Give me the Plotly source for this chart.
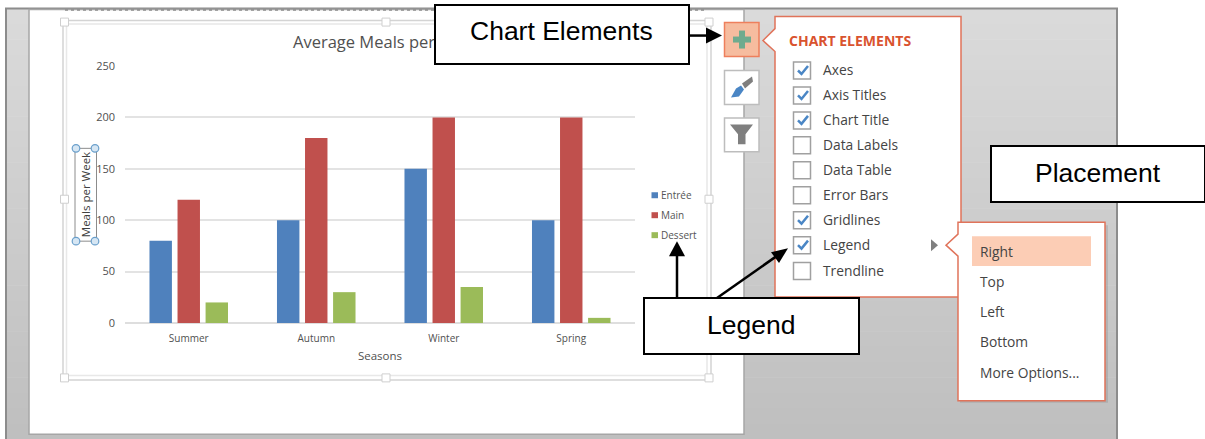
import plotly.graph_objects as go

# Chart data
seasons = ["Summer", "Autumn", "Winter", "Spring"]
entree = [80, 100, 150, 100]
main = [120, 180, 200, 200]
dessert = [20, 30, 35, 5]
series_names = ["Entrée", "Main", "Dessert"]
series_colors = ["#4F81BD", "#C0504D", "#9BBB59"]

# Menu contents
element_names = ["Axes", "Axis Titles", "Chart Title", "Data Labels", "Data Table",
                 "Error Bars", "Gridlines", "Legend", "Trendline"]
element_checked = [True, True, True, False, False, False, True, True, False]
element_rows = [70, 95, 120, 145, 170, 195, 220, 245, 271]
placement_names = ["Right", "Top", "Left", "Bottom", "More Options..."]
placement_rows = [252, 282, 312, 342, 373]

# Plot area in page pixels; everything around it is placed relative to this
W, H = 1205, 439
LEFT, RIGHT, TOP, BOTTOM = 125, 635, 65.5, 323
UI_FONT = "Open Sans"
CALLOUT_FONT = "Liberation Sans"


def px(x):
    return (x - LEFT) / (RIGHT - LEFT)


def py(y):
    return (BOTTOM - y) / (BOTTOM - TOP)


def rect(x0, y0, x1, y1, fill=None, line=None, width=1, layer="above", dash=None):
    return dict(type="rect", xref="paper", yref="paper", layer=layer,
                x0=px(x0), x1=px(x1), y0=py(y0), y1=py(y1),
                fillcolor=fill or "rgba(0,0,0,0)",
                line=dict(color=line or "rgba(0,0,0,0)", width=width if line else 0, dash=dash))


def circle(cx, cy, r, fill, line, width=1):
    return dict(type="circle", xref="paper", yref="paper", layer="above",
                x0=px(cx - r), x1=px(cx + r), y0=py(cy - r), y1=py(cy + r),
                fillcolor=fill, line=dict(color=line, width=width))


def poly(points, fill=None, line=None, width=1, close=True, layer="above"):
    d = "M" + " L".join(f"{px(x):.5f},{py(y):.5f}" for x, y in points) + (" Z" if close else "")
    return dict(type="path", xref="paper", yref="paper", layer=layer, path=d,
                fillcolor=fill or "rgba(0,0,0,0)",
                line=dict(color=line or "rgba(0,0,0,0)", width=width if line else 0))


def text(x, y, s, size=13.8, color="#444444", anchor="left", font=UI_FONT, **kw):
    return dict(xref="paper", yref="paper", x=px(x), y=py(y), text=s, showarrow=False,
                xanchor=anchor, yanchor="middle", borderpad=0,
                font=dict(family=font, size=size, color=color), **kw)


def callout(x0, y0, x1, y1, s, text_x, text_y, size=26.5):
    # A white bordered box with the label placed on top of it
    box = dict(xref="paper", yref="paper", x=px((x0 + x1) / 2), y=py((y0 + y1) / 2), text=" ",
               showarrow=False, xanchor="center", yanchor="middle",
               width=x1 - x0 - 2, height=y1 - y0 - 2,
               bgcolor="#FFFFFF", bordercolor="#000000", borderwidth=2, borderpad=0,
               font=dict(family=CALLOUT_FONT, size=size, color="#000000"))
    label = text(text_x, text_y, s, size=size, color="#000000", anchor="center", font=CALLOUT_FONT)
    return [box, label]


shapes = []

# Application window: vertical grey gradient behind the slide
bands = 28
for i in range(bands):
    y0 = 8 + (439 - 8) * i / bands
    y1 = 8 + (439 - 8) * (i + 1) / bands
    level = 218 - i
    shade = f"rgb({level},{level},{level})"
    shapes.append(rect(6, y0, 1117, y1 + 0.5, fill=shade, layer="below"))
shapes.append(rect(6, 8, 1117, 441, line="#8C8C8C", width=2, layer="below"))

# Slide
shapes.append(rect(29, 9, 744, 434.5, fill="#FFFFFF", line="#A6A6A6", width=1.5, layer="below"))
shapes.append(dict(type="line", xref="paper", yref="paper", layer="below",
                   x0=px(65), x1=px(706), y0=py(9.5), y1=py(9.5),
                   line=dict(color="#8C8C8C", width=1.5, dash="dot")))

# Selected chart frame with its sizing handles
shapes.append(rect(63, 20, 711, 380, line="#D4D4D4", width=1.5, layer="below"))
shapes.append(rect(66.5, 23.5, 707, 375.5, line="#E8E8E8", width=1.5, layer="below"))
for hx, hy in [(64.5, 21.5), (386, 21.5), (709, 21.5), (64.5, 199), (709, 199),
               (64.5, 378), (386, 378), (709, 378)]:
    shapes.append(rect(hx - 4, hy - 4, hx + 4, hy + 4, fill="#FFFFFF", line="#CFCFCF", width=1))

# Selected axis title box
shapes.append(rect(75, 148, 96.5, 241, line="#8C8C8C", width=1))
for hx, hy in [(76, 148), (95, 148), (76, 241), (95, 241)]:
    shapes.append(circle(hx, hy, 3.8, "#D6E6F3", "#6A9FCB", 1.2))

# Side buttons
shapes.append(rect(724.5, 22, 759, 56, fill="#F6BC9F", line="#EE7F5C", width=1.5))
shapes.append(rect(733, 36, 751, 42, fill="#6FAB8E"))
shapes.append(rect(739, 30, 745, 48, fill="#6FAB8E"))
shapes.append(rect(724.5, 70, 759, 104, fill="#FFFFFF", line="#BDBDBD", width=1.5))
shapes.append(poly([(752, 76), (742, 83), (745, 88), (753, 81)], fill="#7F7F7F"))
shapes.append(poly([(741, 85), (736, 88), (731, 97), (739, 96), (744, 89)], fill="#4A86C5"))
shapes.append(rect(724.5, 117.5, 759, 151.5, fill="#FFFFFF", line="#BDBDBD", width=1.5))
shapes.append(poly([(730, 124), (753, 124), (745.5, 134), (745.5, 144), (738, 144), (738, 134)],
                   fill="#7F7F7F"))

# Chart Elements flyout
shapes.append(poly([(775, 16), (961, 16), (961, 297), (775, 297), (775, 51), (763, 40), (775, 28)],
                   fill="#FFFFFF", line="#E0735A", width=1.5))
for checked, cy in zip(element_checked, element_rows):
    shapes.append(rect(793.5, cy - 8.5, 810.5, cy + 8.5, fill="#FFFFFF", line="#A0A0A0", width=1.5))
    if checked:
        shapes.append(poly([(798, cy), (801.5, cy + 3.5), (808, cy - 4.5)], line="#4A86C5",
                           width=2.5, close=False))
shapes.append(poly([(931, 239), (938, 245), (931, 251)], fill="#7F7F7F"))

# Placement flyout
shapes.append(poly([(960, 225), (1108, 225), (1108, 403), (960, 403)], fill="rgba(90,90,90,0.18)"))
shapes.append(poly([(958, 222), (1105, 222), (1105, 401), (958, 401), (958, 256), (946, 245), (958, 234)],
                   fill="#FFFFFF", line="#E0735A", width=1.5))
shapes.append(rect(972, 236, 1091, 266, fill="#FCCDB5"))

# Callout arrows
shapes.append(poly([(689, 35), (708, 35)], line="#000000", width=2.5, close=False))
shapes.append(poly([(706, 27), (722, 35), (706, 43)], fill="#000000"))
shapes.append(poly([(677, 298), (677, 254)], line="#000000", width=2.5, close=False))
shapes.append(poly([(669, 256), (677, 241), (685, 256)], fill="#000000"))
shapes.append(poly([(717, 298), (778, 255)], line="#000000", width=2.5, close=False))
shapes.append(poly([(788, 248), (771, 252), (779, 263)], fill="#000000"))

# Series key beside the plot
legend_rows = [195, 215, 235]
for color, ly in zip(series_colors, legend_rows):
    shapes.append(rect(651.5, ly - 3, 658, ly + 3, fill=color))

annotations = []
for name, ly in zip(series_names, legend_rows):
    annotations.append(text(659.5, ly - 0.5, name, size=10, color="#555555"))
annotations.append(text(787.5, 40.3, "<b>CHART ELEMENTS</b>", size=14, color="#D9532F"))
for name, cy in zip(element_names, element_rows):
    annotations.append(text(821.5, cy - 0.7, name))
for name, cy in zip(placement_names, placement_rows):
    annotations.append(text(978.5, cy - 0.5, name))
annotations += callout(435, 4, 689, 63, "Chart Elements", 561, 30.5)
annotations += callout(644, 298, 859, 354, "Legend", 750.5, 325)
annotations += callout(991, 146, 1205, 202, "Placement", 1097.5, 173)

fig = go.Figure()
for name, values, color in zip(series_names, [entree, main, dessert], series_colors):
    fig.add_trace(go.Bar(name=name, x=seasons, y=values, marker=dict(color=color, line=dict(width=0))))

fig.update_layout(
    width=W, height=H, autosize=False,
    margin=dict(l=LEFT, r=W - RIGHT, t=TOP, b=H - BOTTOM, pad=0),
    paper_bgcolor="#FFFFFF", plot_bgcolor="rgba(0,0,0,0)",
    barmode="group", bargap=0.34, bargroupgap=0.2, showlegend=False,
    font=dict(family=UI_FONT, color="#595959"),
    title=dict(text="Average Meals per Week", x=293 / W, xref="container",
               xanchor="left", y=1 - 42.5 / H, yanchor="middle",
               font=dict(family=UI_FONT, size=16.5, color="#505050")),
    shapes=shapes, annotations=annotations,
)
fig.update_xaxes(range=[-0.5, 3.5], tickfont=dict(size=10, color="#505050"), ticklabelstandoff=8,
                 ticks="", showline=False, showgrid=False, zeroline=False, automargin=True,
                 title=dict(text="Seasons", font=dict(size=11.5, color="#505050"), standoff=7))
fig.update_yaxes(range=[0, 250], tickvals=[0, 50, 100, 150, 200, 250], ticklabelstandoff=9,
                 tickfont=dict(size=11, color="#505050"), ticks="", showline=False, automargin=True,
                 gridcolor="#E3E3E3", gridwidth=1.5, zeroline=True, zerolinecolor="#DEDEDE", zerolinewidth=1.5,
                 title=dict(text="Meals per Week", font=dict(size=11.5, color="#404040"), standoff=3))

fig.write_html("out.html")
